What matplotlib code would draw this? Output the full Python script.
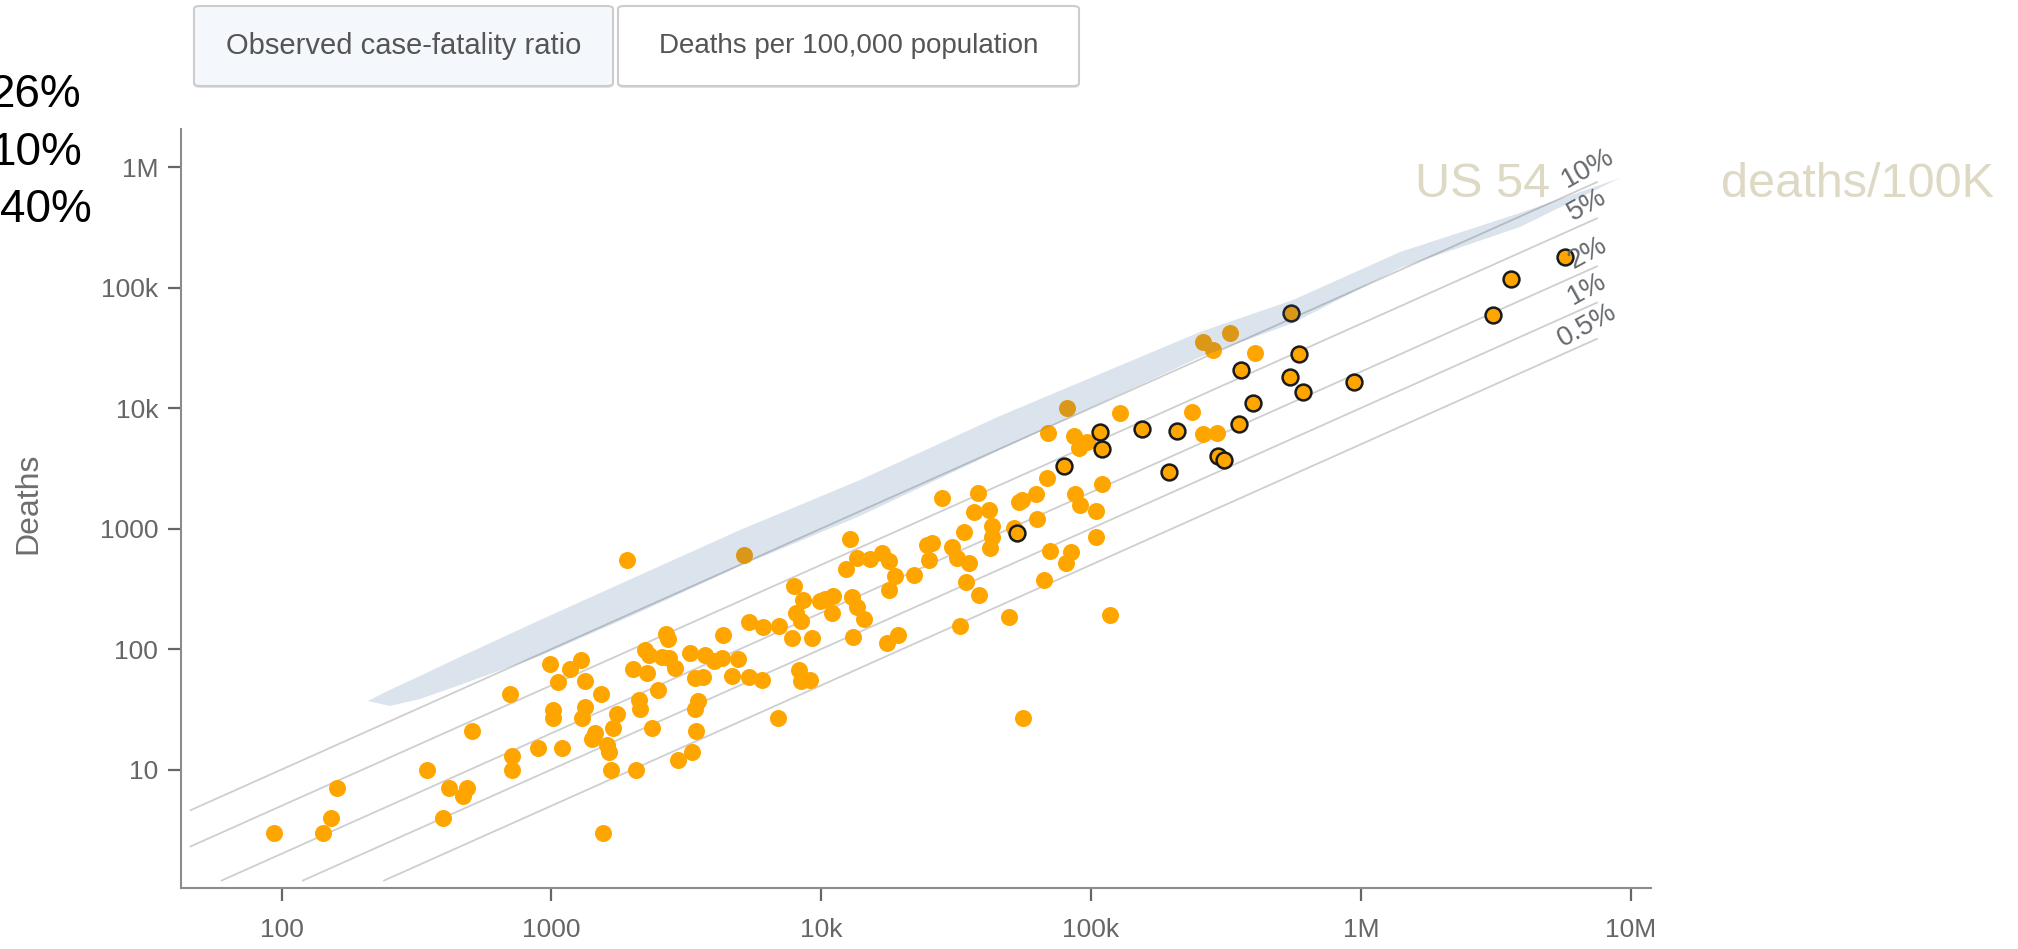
import matplotlib
matplotlib.use('Agg')
import matplotlib.pyplot as plt
from matplotlib.patches import Polygon, FancyBboxPatch

plt.rcParams['font.family'] = ['Liberation Sans', 'DejaVu Sans']

W, H = 2018, 949

# countries (cases, deaths)
cases = [94, 143, 153, 161, 345, 416, 487, 472, 398, 507, 703, 713, 713, 889, 1094,
         985, 1175, 1285, 1062, 1334, 1525, 1018, 1018, 1334, 1300, 1453, 1413, 1607,
         1642, 1662, 1758, 1690, 1560, 2060, 2358, 2005, 2270, 2104, 2133, 2495, 2228,
         2292, 2667, 2695, 2570, 2718, 2877, 3273, 3718, 3990, 3412, 3662, 3510, 3412,
         3443, 3320, 2958,
         1905, 5190, 12800, 28000, 38200, 37000, 33700, 24600, 25800, 25000, 30500,
         31900, 35200, 34500, 38300, 32600, 22100, 18800, 17900, 17900, 16800, 15200,
         13600, 12400, 7900, 8600, 9900, 11100, 10300, 11000, 8100, 8400, 13000, 13600,
         14400, 13100, 17500, 19200, 9250, 7800, 8300, 8400, 9100, 6900, 5400, 6100,
         6950, 4320, 4900, 4290, 4670, 5380, 6030,
         41800, 43000, 43000, 42100, 52000, 55600, 54000, 62400, 63100, 68700, 87500,
         91400, 104800, 104800, 109400, 70300, 84300, 81100, 67200, 49500, 117500,
         69200, 81500, 86700, 96700, 90000, 128000, 236800, 260000, 293000, 404600,
         260000, 283000, 328000, 56000]
deaths = [3, 3, 4, 7, 10, 7, 7, 6, 4, 21, 42, 13, 10, 15, 15,
          75, 68, 81, 53, 54, 42, 31, 27, 33, 27, 20, 18, 16,
          14, 10, 29, 22, 3, 10, 22, 68, 63, 38, 32, 46, 98,
          89, 134, 121, 86, 84, 70, 92, 90, 79, 58, 59, 37, 32,
          21, 14, 12,
          548, 604, 815, 1780, 1990, 1380, 940, 730, 760, 550, 700,
          567, 515, 362, 281, 156, 412, 404, 309, 542, 624, 556,
          567, 459, 334, 255, 252, 276, 262, 198, 198, 172, 272, 222,
          177, 127, 113, 131, 123, 123, 67, 54, 55, 27, 167, 153,
          156, 131, 82, 84, 60, 59, 55,
          1430, 1050, 857, 690, 1010, 1730, 1650, 1940, 1190, 2610, 1940,
          1570, 1410, 847, 2345, 656, 643, 515, 374, 186, 192,
          6180, 9960, 5870, 5260, 4640, 9160, 9330, 6100, 6180, 28800,
          35600, 30300, 41800, 27]

# highlighted countries (outlined)
hl_cases = [53100, 79300, 107900, 110000, 155000, 208600, 194000, 294600, 310000,
            352500, 399000, 360000, 552000, 590000, 547000, 610000, 946000,
            3.1e6, 3.6e6, 5.7e6]
hl_deaths = [925, 3310, 6300, 4550, 6710, 6500, 2970, 4000, 3700,
             7380, 10960, 20700, 62100, 28200, 18200, 13500, 16400,
             59000, 117000, 179000]

# shaded band outline
band_cases = [209, 252, 326, 459, 908, 2133, 5005, 13940, 46000, 253600, 561000,
              1.40e6, 3.89e6, 9.14e6]
band_upper = [37.1, 45.8, 59.8, 86.0, 174, 412, 973, 2530, 8600, 42800, 78900,
              197500, 416000, 812000]
band_lower = [37.1, 33.7, 38.5, 50.4, 87.7, 203, 489, 1272, 4490, 26500, 50800,
              145500, 318400, 812000]

# case-fatality reference lines
cfr_values = [0.10, 0.05, 0.02, 0.01, 0.005]
cfr_labels = ['10%', '5%', '2%', '1%', '0.5%']
line_start_cases = 46
line_start_deaths = 1.2
line_end_cases = 7.5e6

xticks = [100, 1000, 1e4, 1e5, 1e6, 1e7]
xticklabels = ['100', '1000', '10k', '100k', '1M', '10M']
yticks = [10, 100, 1000, 1e4, 1e5, 1e6]
yticklabels = ['10', '100', '1000', '10k', '100k', '1M']

side_labels = ['26%', '10%', '40%']


def fx(px):
    return px / W


def fy(py):
    return 1 - py / H


fig = plt.figure(figsize=(W / 100, H / 100), dpi=100)
ax = fig.add_axes([fx(181), fy(888), (1651 - 181) / W, (888 - 129) / H])
ax.set_xscale('log')
ax.set_yscale('log')
ax.set_xlim(42.4, 1.19e7)
ax.set_ylim(1.04, 2.07e6)

for c, lab in zip(cfr_values, cfr_labels):
    x0 = max(line_start_cases, line_start_deaths / c)
    ax.plot([x0, line_end_cases], [c * x0, c * line_end_cases],
            color='#808080', alpha=0.38, lw=1.3, zorder=1)
    ax.annotate(lab, xy=(line_end_cases, c * line_end_cases), xytext=(-6.8, 9.6),
                textcoords='offset points', ha='center', va='center',
                rotation=29, rotation_mode='anchor', fontsize=20, color='#666a70')

ax.scatter(cases, deaths, s=150, color='#ffa500', linewidths=0, zorder=2)
ax.scatter(hl_cases, hl_deaths, s=130, color='#ffa500', edgecolors='#1a1a1a',
           linewidths=1.8, zorder=2.5)

band = Polygon(list(zip(band_cases + band_cases[::-1], band_upper + band_lower[::-1])),
               closed=True, facecolor='#2b5a8f', alpha=0.17, edgecolor='none', zorder=3)
ax.add_patch(band)

ax.set_xticks(xticks)
ax.set_xticklabels(xticklabels)
ax.set_yticks(yticks)
ax.set_yticklabels(yticklabels)
ax.minorticks_off()
ax.tick_params(axis='both', colors='#666666', labelcolor='#666666', labelsize=19,
               length=9.4, width=1.6)
ax.tick_params(axis='x', pad=12)
ax.tick_params(axis='y', pad=7)
for s in ['top', 'right']:
    ax.spines[s].set_visible(False)
for s in ['left', 'bottom']:
    ax.spines[s].set_color('#8c8c8c')
    ax.spines[s].set_linewidth(1.5)

fig.text(fx(28), fy(503), 'Deaths', rotation=90, ha='center', va='center',
         fontsize=23, color='#6e6e6e')

# buttons
buttons = [('Observed case-fatality ratio', 194, 613, '#f4f8fd', 21),
           ('Deaths per 100,000 population', 618, 1079, '#ffffff', 20)]
for label, x0, x1, fc, fs in buttons:
    shadow = FancyBboxPatch((fx(x0), fy(88)), fx(x1 - x0), (88 - 8) / H,
                            boxstyle='round,pad=0,rounding_size=0.003',
                            transform=fig.transFigure, facecolor='#e2e2e2',
                            edgecolor='none')
    fig.patches.append(shadow)
    box = FancyBboxPatch((fx(x0), fy(86)), fx(x1 - x0), (86 - 6) / H,
                         boxstyle='round,pad=0,rounding_size=0.003',
                         transform=fig.transFigure, facecolor=fc,
                         edgecolor='#cccccc', linewidth=1.5)
    fig.patches.append(box)
    fig.text(fx((x0 + x1) / 2), fy(46), label, ha='center', va='center',
             fontsize=fs, color='#555555')

# left-side labels
for lab, x, y in zip(side_labels, [-10, -9, 0], [107, 165, 222]):
    fig.text(fx(x), fy(y), lab, ha='left', va='baseline', fontsize=33, color='black')

fig.text(fx(1415), fy(197), 'US 54', ha='left', va='baseline', fontsize=35, color='#ddd9c4')
fig.text(fx(1721), fy(197), 'deaths/100K', ha='left', va='baseline', fontsize=35, color='#ddd9c4')

fig.savefig('out.png', dpi=100)
